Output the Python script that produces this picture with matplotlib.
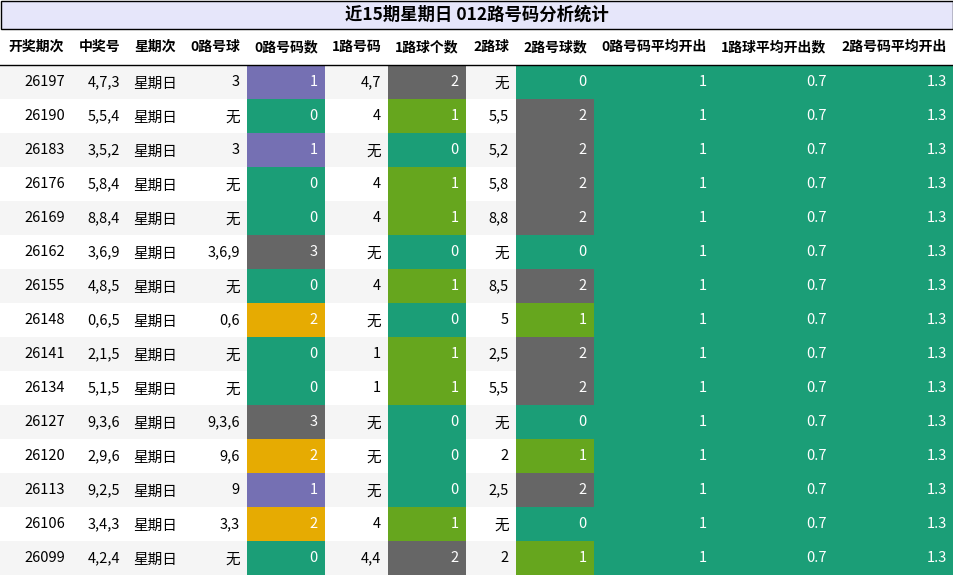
import matplotlib
matplotlib.use("Agg")
import matplotlib.pyplot as plt
from matplotlib.patches import Rectangle

plt.rcParams['font.family'] = ['Noto Sans CJK SC', 'DejaVu Sans']

title = "近15期星期日 012路号码分析统计"
headers = ["开奖期次", "中奖号", "星期次", "0路号球", "0路号码数", "1路号码", "1路球个数",
           "2路球", "2路号球数", "0路号码平均开出", "1路球平均开出数", "2路号码平均开出"]
issues = ["26197", "26190", "26183", "26176", "26169", "26162", "26155", "26148",
          "26141", "26134", "26127", "26120", "26113", "26106", "26099"]
numbers = ["4,7,3", "5,5,4", "3,5,2", "5,8,4", "8,8,4", "3,6,9", "4,8,5", "0,6,5",
           "2,1,5", "5,1,5", "9,3,6", "2,9,6", "9,2,5", "3,4,3", "4,2,4"]
weekday = ["星期日"] * 15
r0_balls = ["3", "无", "3", "无", "无", "3,6,9", "无", "0,6", "无", "无", "9,3,6", "9,6", "9", "3,3", "无"]
r0_count = [1, 0, 1, 0, 0, 3, 0, 2, 0, 0, 3, 2, 1, 2, 0]
r1_balls = ["4,7", "4", "无", "4", "4", "无", "4", "无", "1", "1", "无", "无", "无", "4", "4,4"]
r1_count = [2, 1, 0, 1, 1, 0, 1, 0, 1, 1, 0, 0, 0, 1, 2]
r2_balls = ["无", "5,5", "5,2", "5,8", "8,8", "无", "8,5", "5", "2,5", "5,5", "无", "2", "2,5", "无", "2"]
r2_count = [0, 2, 2, 2, 2, 0, 2, 1, 2, 2, 0, 1, 2, 0, 1]
avg0 = ["1"] * 15
avg1 = ["0.7"] * 15
avg2 = ["1.3"] * 15

TEAL, PURPLE, GRAY, OLIVE, YELLOW = "#1b9e77", "#7570b3", "#666666", "#66a61e", "#e6ab02"
cmap0 = {0: TEAL, 1: PURPLE, 2: YELLOW, 3: GRAY}
cmap1 = {0: TEAL, 1: OLIVE, 2: GRAY}
cmap2 = {0: TEAL, 1: OLIVE, 2: GRAY}

edges = [0, 72, 127, 184, 247, 325, 388, 466, 516, 594, 714, 834, 954]
W, H = 954, 576
fig = plt.figure(figsize=(W / 100, H / 100), dpi=100)
ax = fig.add_axes([0, 0, 1, 1])
ax.set_xlim(0, W); ax.set_ylim(H, 0); ax.axis('off')

ax.add_patch(Rectangle((0.5, 0.5), W - 1.5, 28, facecolor="#e6e6fa", edgecolor="black", lw=1))
ax.text(W / 2, 15, title, ha='center', va='center', fontsize=12.5, fontweight='bold')

for j, h in enumerate(headers):
    ax.text((edges[j] + edges[j + 1]) / 2, 47, h, ha='center', va='center', fontsize=10, fontweight='bold')
ax.plot([0, W], [65, 65], color='black', lw=1)

cols = [issues, numbers, weekday, r0_balls, r0_count, r1_balls, r1_count,
        r2_balls, r2_count, avg0, avg1, avg2]
y0, rh = 65, 34
for i in range(15):
    top = y0 + i * rh
    if i % 2 == 0:
        ax.add_patch(Rectangle((0, top), W, rh, facecolor="#f5f5f5", edgecolor='none'))
    for j, col in enumerate(cols):
        x0, x1 = edges[j], edges[j + 1]
        val = col[i]
        fill = None
        if j == 4: fill = cmap0[val]
        elif j == 6: fill = cmap1[val]
        elif j == 8: fill = cmap2[val]
        elif j >= 9: fill = TEAL
        if fill:
            ax.add_patch(Rectangle((x0, top), x1 - x0, rh, facecolor=fill, edgecolor='none'))
        color = 'white' if fill else 'black'
        yc = top + rh / 2 + (2 if not str(val).replace(',', '').replace('.', '').isdigit() else 0)
        if j == 2:
            ax.text((x0 + x1) / 2, yc, str(val), ha='center', va='center', fontsize=10.5, color=color)
        else:
            ax.text(x1 - 7, yc, str(val), ha='right', va='center', fontsize=10.5, color=color)

fig.savefig("out.png", dpi=100)
